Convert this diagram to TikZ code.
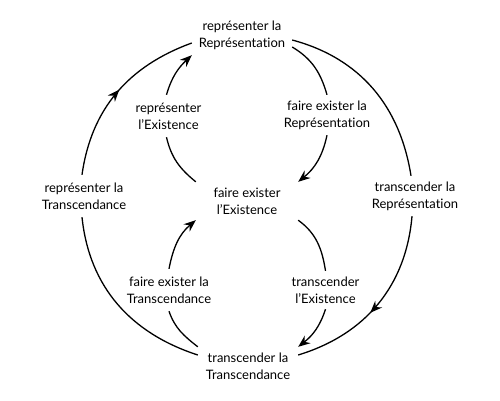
\documentclass[tikz,border=0pt]{standalone}
\usepackage{fontspec}
\setmainfont{Lato}[Ligatures={NoCommon,NoRare,NoContextual}]
\usetikzlibrary{arrows.meta,decorations.markings}
\begin{document}
\begin{tikzpicture}[x=1pt,y=1pt,
  lbl/.style={inner sep=0pt, align=center, font=\fontsize{13}{17}\selectfont, text=black},
  conn/.style={line width=1.3pt, black},
  tip/.style={-{Stealth[length=12pt,width=9.5pt,inset=4pt]}},
  midarrow/.style={postaction={decorate},decoration={markings,mark=at position #1 with {\arrow{Stealth[length=12pt,width=9.5pt,inset=4pt]}}}}
]
\useasboundingbox (0,0) rectangle (500,400);
% main nodes
\node[lbl, minimum width=100, minimum height=40] (T) at (242,365) {représenter la\\Représentation};
\node[lbl, minimum width=102, minimum height=38] (C) at (247,199) {faire exister\\l'Existence};
\node[lbl, minimum width=100, minimum height=38] (B) at (248,34) {transcender la\\Transcendance};
% outer labels
\node[lbl, minimum height=42] (L) at (84,204) {représenter la\\Transcendance};
\node[lbl, minimum height=40] (R) at (415,204) {transcender la\\Représentation};
% inner labels
\node[lbl, minimum height=42] (TL) at (168.5,284) {représenter\\l'Existence};
\node[lbl, minimum height=40] (TR) at (327,285) {faire exister la\\Représentation};
\node[lbl, minimum height=38] (BR) at (325.5,110) {transcender\\l'Existence};
\node[lbl, minimum height=42] (BL) at (169,110) {faire exister la\\Transcendance};
% outer cycle
\draw[conn] ([yshift=-5]T.east) to[out=-15,in=99] ([xshift=-4]R.north);
\draw[conn, midarrow=0.56] ([xshift=-3]R.south) to[out=-95,in=17] ([yshift=11]B.east);
\draw[conn] ([yshift=11]B.west) to[out=162,in=-84] ([xshift=-2]L.south);
\draw[conn, midarrow=0.52] ([xshift=-2]L.north) to[out=82,in=-160] ([yshift=-8]T.west);
% upper inner loop
\draw[conn] ([yshift=-12]T.east) to[out=-31,in=106] (TR.north);
\draw[conn, tip] (TR.south) to[out=-102,in=39] (C.north east);
\draw[conn] (C.north west) to[out=141,in=-77] ([xshift=-2]TL.south);
\draw[conn, tip] ([xshift=-2]TL.north) to[out=74,in=-137] (T.south west);
% lower inner loop
\draw[conn] (C.south east) to[out=-36,in=99] (BR.north);
\draw[conn, tip] (BR.south) to[out=-108,in=38] (B.north east);
\draw[conn] (B.north west) to[out=142,in=-71] (BL.south);
\draw[conn, tip] (BL.north) to[out=79,in=-140] (C.south west);
\end{tikzpicture}
\end{document}
